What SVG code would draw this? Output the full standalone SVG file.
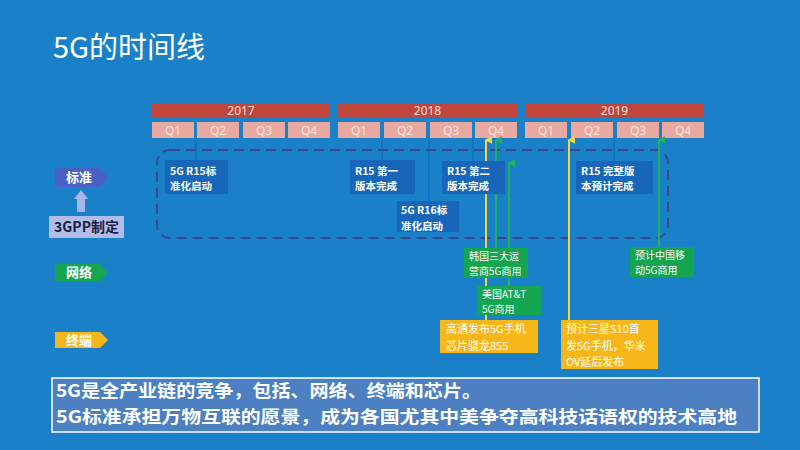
<svg xmlns="http://www.w3.org/2000/svg" width="800" height="450" viewBox="0 0 800 450">
<defs>
<style>
.cjk{font-family:"Noto Sans CJK SC","Noto Sans",sans-serif}
.yr{fill:#c0453c}
.q{fill:#e9a9a1}
.qt{font-family:"Noto Sans","Liberation Sans",sans-serif;font-size:12px;fill:#fbe3df;text-anchor:middle}
.std rect{fill:#1766b9}
.grn rect{fill:#14a550}
.ylw rect{fill:#f8b719}
.bt{font-family:"Noto Sans CJK SC",sans-serif;font-size:10.5px;font-weight:bold;fill:#ffffff}
.gt{font-family:"Noto Sans CJK SC",sans-serif;font-size:10px;fill:#ffffff}
.yt{font-family:"Noto Sans CJK SC",sans-serif;font-size:11px;fill:#ffffff}
.sline{stroke:#1565c0;stroke-width:1.2;fill:none}
.yline{stroke:#f6d648;stroke-width:2;fill:none}
.gline{stroke:#1fb35a;stroke-width:2;fill:none}
.tag{font-family:"Noto Sans CJK SC",sans-serif;font-size:13px;font-weight:bold;fill:#ffffff;text-anchor:middle}
.sum{font-family:"Noto Sans CJK SC",sans-serif;font-size:17.5px;font-weight:bold;fill:#ffffff}
</style>
<marker id="ya" viewBox="0 0 10 10" refX="5" refY="2" markerWidth="4" markerHeight="4" orient="auto-start-reverse"><path d="M0,10 L5,0 L10,10 Z" fill="#f6d648"/></marker>
<marker id="ga" viewBox="0 0 10 10" refX="5" refY="2" markerWidth="4" markerHeight="4" orient="auto-start-reverse"><path d="M0,10 L5,0 L10,10 Z" fill="#1fb35a"/></marker>
</defs>
<rect x="0" y="0" width="800" height="450" fill="#1a80c7"/>

<text x="53" y="58" class="cjk" font-size="29" fill="#ffffff">5G的时间线</text>

<!-- timeline header -->
<g id="years">
<rect class="yr" x="152" y="103" width="178" height="15"/>
<rect class="yr" x="338" y="103" width="179" height="15"/>
<rect class="yr" x="525" y="103" width="179" height="15"/>
<text class="qt" x="241" y="115">2017</text>
<text class="qt" x="427.5" y="115">2018</text>
<text class="qt" x="614.5" y="115">2019</text>
</g>
<g id="quarters">
<rect class="q" x="152" y="122" width="42" height="16"/>
<rect class="q" x="197" y="122" width="42" height="16"/>
<rect class="q" x="243" y="122" width="42" height="16"/>
<rect class="q" x="288" y="122" width="42" height="16"/>
<rect class="q" x="338" y="122" width="42" height="16"/>
<rect class="q" x="384" y="122" width="42" height="16"/>
<rect class="q" x="430" y="122" width="42" height="16"/>
<rect class="q" x="475" y="122" width="42" height="16"/>
<rect class="q" x="525" y="122" width="42" height="16"/>
<rect class="q" x="571" y="122" width="42" height="16"/>
<rect class="q" x="617" y="122" width="42" height="16"/>
<rect class="q" x="662" y="122" width="42" height="16"/>
<text class="qt" x="173" y="135">Q1</text>
<text class="qt" x="218" y="135">Q2</text>
<text class="qt" x="264" y="135">Q3</text>
<text class="qt" x="309" y="135">Q4</text>
<text class="qt" x="359" y="135">Q1</text>
<text class="qt" x="405" y="135">Q2</text>
<text class="qt" x="451" y="135">Q3</text>
<text class="qt" x="496" y="135">Q4</text>
<text class="qt" x="546" y="135">Q1</text>
<text class="qt" x="592" y="135">Q2</text>
<text class="qt" x="638" y="135">Q3</text>
<text class="qt" x="683" y="135">Q4</text>
</g>

<!-- 3GPP standard region -->
<rect id="std-region" x="157" y="150" width="511" height="88" rx="13" fill="none" stroke="#34498f" stroke-width="2" stroke-dasharray="10 6"/>

<!-- left labels -->
<g id="lbl-std">
<path d="M55,168 H100 L108,177.5 L100,187 H55 Z" fill="#4b60c4"/>
<text class="tag" x="79" y="182">标准</text>
</g>
<g id="lbl-up">
<path d="M81,190 L88,199 H85 V212 H77 V199 H74 Z" fill="#a9b5ea"/>
</g>
<g id="lbl-3gpp">
<rect x="49" y="216" width="75" height="22" fill="#b0bce9"/>
<text x="86.5" y="232" text-anchor="middle" font-family="Noto Sans CJK SC,sans-serif" font-size="14" font-weight="bold" fill="#1b1f44">3GPP制定</text>
</g>
<g id="lbl-net">
<path d="M55,264 H100 L108,272.5 L100,281 H55 Z" fill="#14a550"/>
<text class="tag" x="79" y="277">网络</text>
</g>
<g id="lbl-term">
<path d="M55,332 H100 L108,340 L100,348 H55 Z" fill="#f8b719"/>
<text class="tag" x="79" y="345">终端</text>
</g>

<!-- connectors -->
<g id="connectors">
<line class="sline" x1="196" y1="138" x2="196" y2="160"/>
<line class="sline" x1="382" y1="138" x2="382" y2="160"/>
<line class="sline" x1="429" y1="138" x2="429" y2="201"/>
<line class="sline" x1="473" y1="138" x2="473" y2="161"/>
<line class="sline" x1="614" y1="138" x2="614" y2="161"/>
<line class="yline" x1="486" y1="320" x2="486" y2="140" marker-end="url(#ya)"/>
<line class="yline" x1="569" y1="320" x2="569" y2="140" marker-end="url(#ya)"/>
<line class="gline" x1="496" y1="248" x2="496" y2="140" marker-end="url(#ga)"/>
<line class="gline" x1="509" y1="286" x2="509" y2="163" marker-end="url(#ga)"/>
<line class="gline" x1="659" y1="247" x2="659" y2="140" marker-end="url(#ga)"/>
</g>

<!-- standard nodes -->
<g id="r15-start" class="std">
<rect x="165" y="160" width="63" height="34"/>
<text class="bt" x="170" y="174.5">5G R15标</text>
<text class="bt" x="170" y="190">准化启动</text>
</g>
<g id="r15-first" class="std">
<rect x="350" y="160" width="65" height="34"/>
<text class="bt" x="355" y="174.5">R15 第一</text>
<text class="bt" x="355" y="190">版本完成</text>
</g>
<g id="r15-second" class="std">
<rect x="442" y="161" width="63" height="33"/>
<text class="bt" x="447" y="174.5">R15 第二</text>
<text class="bt" x="447" y="190">版本完成</text>
</g>
<g id="r16-start" class="std">
<rect x="397" y="201" width="62" height="31"/>
<text class="bt" x="401" y="214">5G R16标</text>
<text class="bt" x="401" y="229.5">准化启动</text>
</g>
<g id="r15-full" class="std">
<rect x="576" y="161" width="77" height="33"/>
<text class="bt" x="581" y="174.5">R15 完整版</text>
<text class="bt" x="581" y="190">本预计完成</text>
</g>

<!-- network nodes -->
<g id="korea" class="grn">
<rect x="464" y="248" width="64" height="30"/>
<text class="gt" x="469" y="260">韩国三大运</text>
<text class="gt" x="469" y="274.5">营商5G商用</text>
</g>
<g id="att" class="grn">
<rect x="477" y="286" width="64" height="29"/>
<text class="gt" x="482" y="298">美国AT&amp;T</text>
<text class="gt" x="482" y="312.5">5G商用</text>
</g>
<g id="cmcc" class="grn">
<rect x="630" y="247" width="64" height="30"/>
<text class="gt" x="635" y="259">预计中国移</text>
<text class="gt" x="635" y="273.5">动5G商用</text>
</g>

<!-- terminal nodes -->
<g id="qualcomm" class="ylw">
<rect x="440" y="320" width="98" height="33"/>
<text class="yt" x="446" y="333">高通发布5G手机</text>
<text class="yt" x="446" y="349.5">芯片骁龙855</text>
</g>
<g id="samsung" class="ylw">
<rect x="561" y="320" width="97" height="49"/>
<text class="yt" x="566" y="333">预计三星S10首</text>
<text class="yt" x="566" y="349.5">发5G手机，华米</text>
<text class="yt" x="566" y="366">OV延后发布</text>
</g>

<!-- summary -->
<g id="summary">
<rect x="52" y="378" width="707" height="54" fill="#4c80c2" stroke="#ffffff" stroke-width="1.5"/>
<text class="sum" x="56" y="397" textLength="425" lengthAdjust="spacingAndGlyphs">5G是全产业链的竞争，包括、网络、终端和芯片。</text>
<text class="sum" x="56" y="423" textLength="681" lengthAdjust="spacingAndGlyphs">5G标准承担万物互联的愿景，成为各国尤其中美争夺高科技话语权的技术高地</text>
</g>
</svg>
